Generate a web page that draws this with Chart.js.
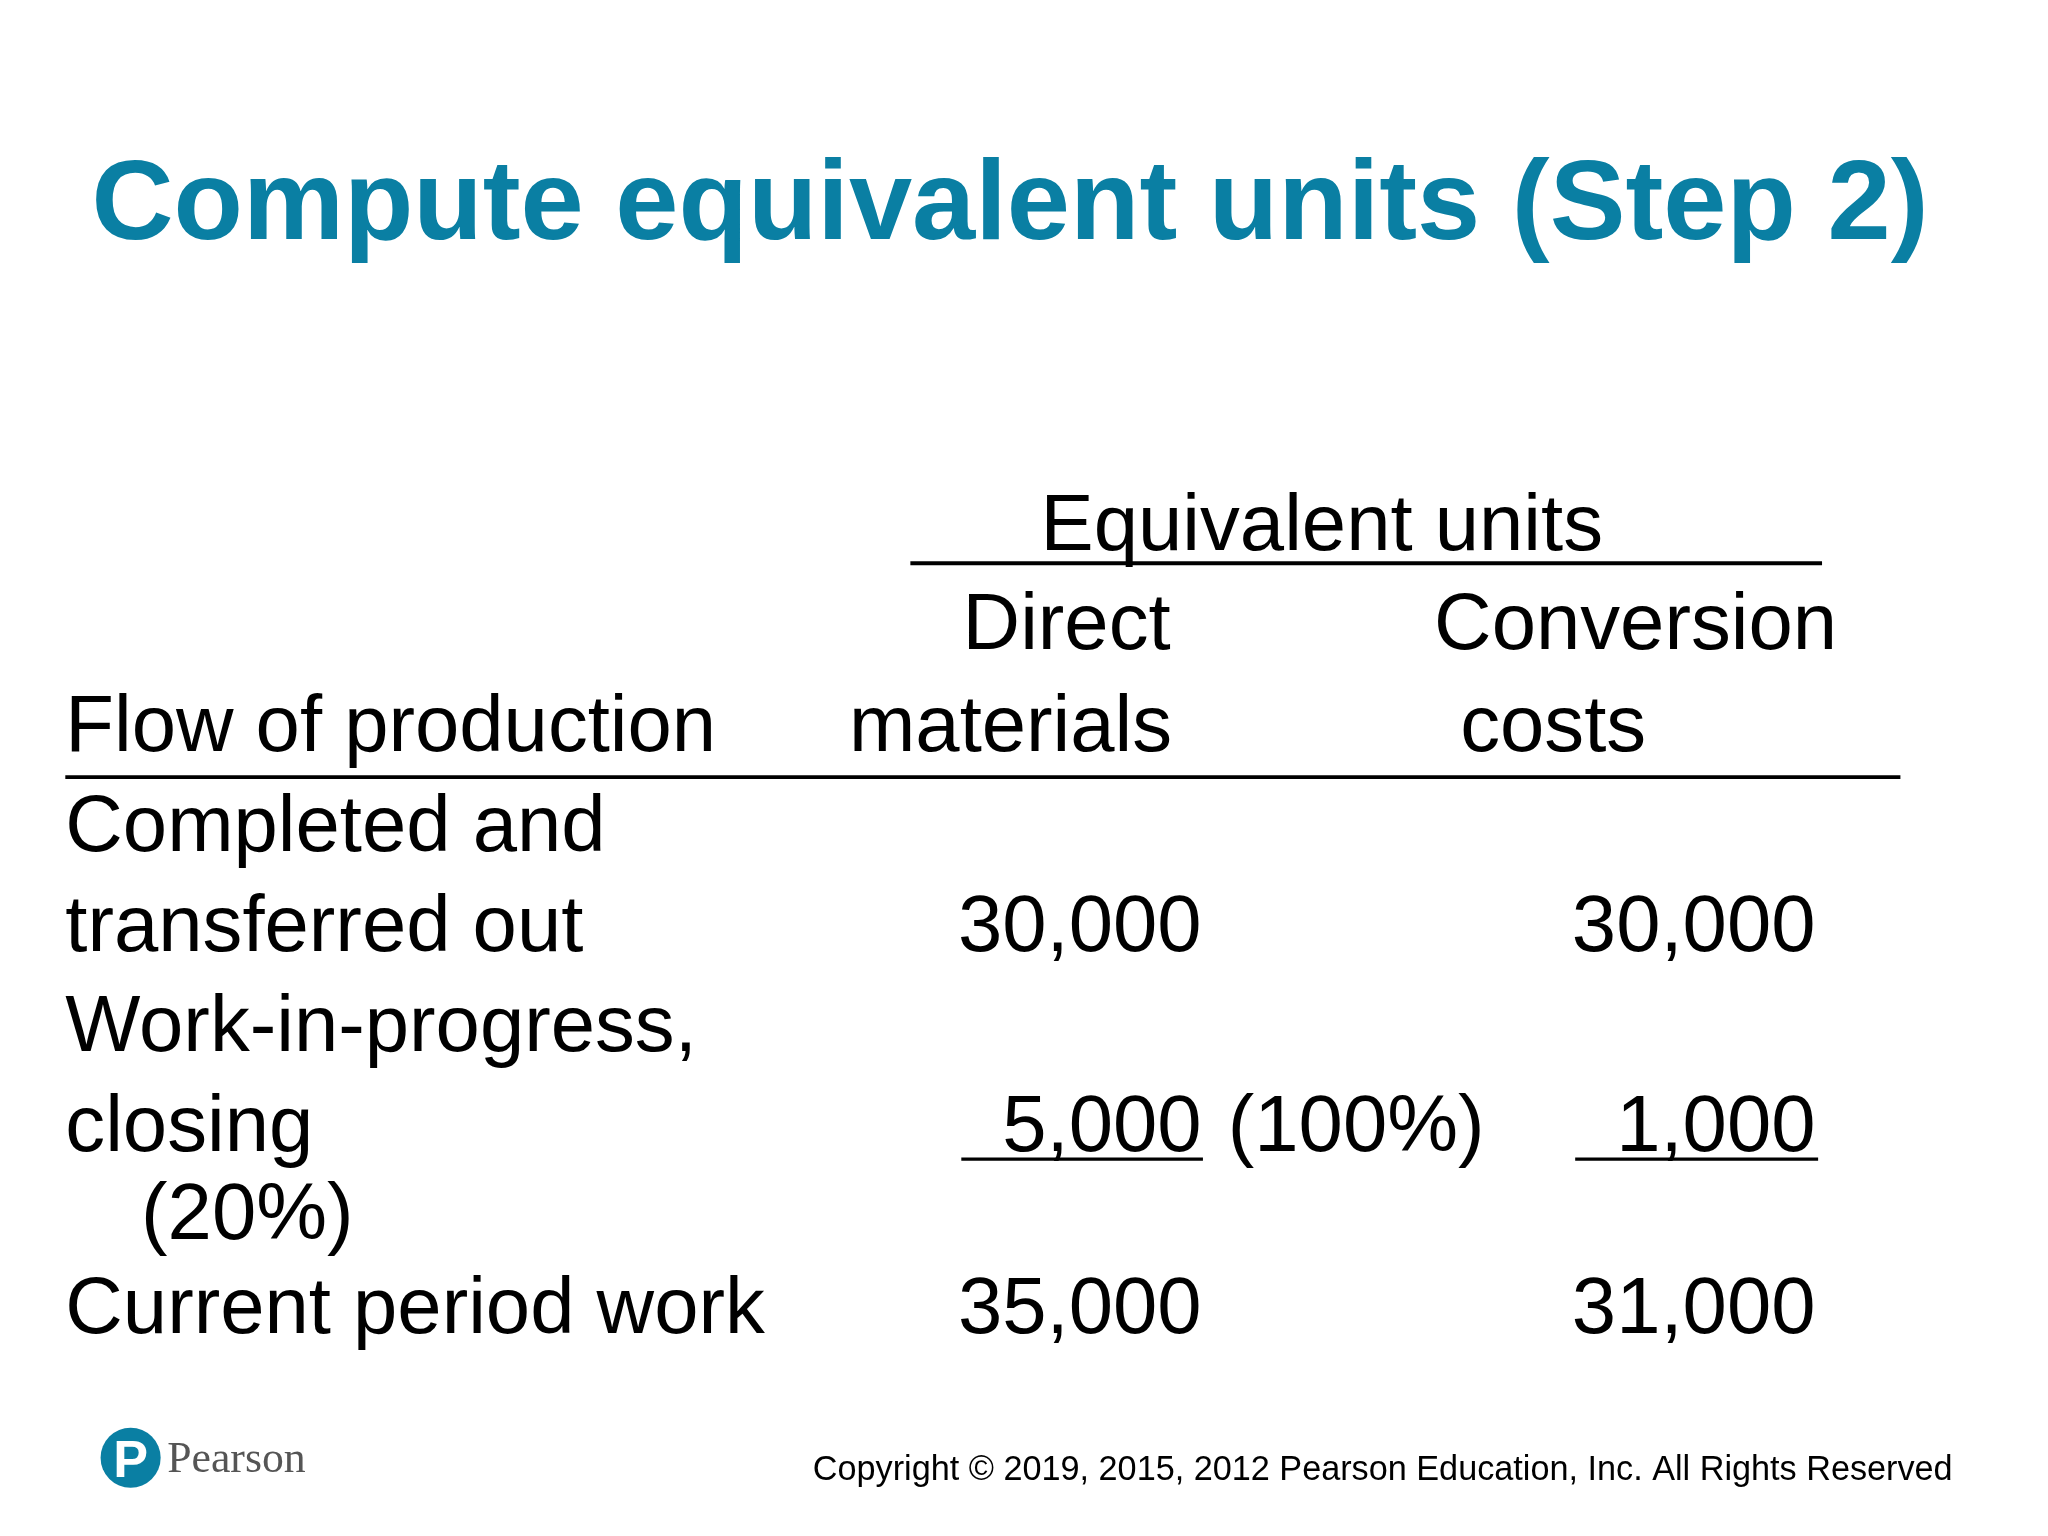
<!DOCTYPE html>
<html><head><meta charset="utf-8">
<script src="https://cdn.jsdelivr.net/npm/chart.js@4"></script>
<style>html,body{margin:0;padding:0;background:#fff}#w{width:2048px;height:1536px}</style>
</head><body><div id="w"><canvas id="c"></canvas></div>
<script>
const title = "Compute equivalent units (Step 2)";
const groupHeader = "Equivalent units";
const colHeaders = [["Direct","materials"],["Conversion","costs"]];
const rowHeader = "Flow of production";
const rowLabels = [["Completed and","transferred out"],["Work-in-progress,","closing","(20%)"],["Current period work"]];
const directMaterials = [30000, 5000, 35000];
const conversionCosts = [30000, 1000, 31000];
const pctNote = "(100%)";
const copyright = "Copyright © 2019, 2015, 2012 Pearson Education, Inc. All Rights Reserved";

const W = 1568, H = 1178;
const fmt = v => v.toLocaleString('en-US');
const F = "'Liberation Sans', Arial, sans-serif";

const tablePlugin = {
  id:'table',
  afterDraw(chart){
    const ctx = chart.ctx, X = v=>chart.scales.x.getPixelForValue(v), Y = v=>chart.scales.y.getPixelForValue(v);
    const K = chart.width / W;
    const txt=(s,x,y,size,align='left',color='#000',weight='',fam=F)=>{
      ctx.font=`${weight} ${size*K}px ${fam}`;ctx.fillStyle=color;ctx.textAlign=align;ctx.textBaseline='alphabetic';
      ctx.fillText(s,X(x),Y(y));};
    const line=(x1,x2,y,w=3)=>{ctx.strokeStyle='#000';ctx.lineWidth=w*K;ctx.beginPath();ctx.moveTo(X(x1),Y(y));ctx.lineTo(X(x2),Y(y));ctx.stroke();};
    ctx.save();
    txt(title,70,183,87,'left','#0a7fa3','bold');
    const fs=61;
    txt(groupHeader,1012,422,fs,'center');
    line(697,1395,432);
    txt(colHeaders[0][0],737,498,fs);txt(colHeaders[1][0],1098,498,fs);
    txt(rowHeader,50,576,fs);txt(colHeaders[0][1],650,576,fs);txt(colHeaders[1][1],1118,576,fs);
    line(50,1455,596);
    txt(rowLabels[0][0],50,653,fs);txt(rowLabels[0][1],50,729,fs);
    txt(fmt(directMaterials[0]),920,729,fs,'right');txt(fmt(conversionCosts[0]),1390,729,fs,'right');
    txt(rowLabels[1][0],50,806,fs);txt(rowLabels[1][1],50,883,fs);txt(rowLabels[1][2],108,950,fs);
    txt(fmt(directMaterials[1]),920,883,fs,'right');txt(pctNote,940,883,fs);
    txt(fmt(conversionCosts[1]),1390,883,fs,'right');
    line(736,921,889,2.5);line(1206,1392,889,2.5);
    txt(rowLabels[2][0],50,1022,fs);
    txt(fmt(directMaterials[2]),920,1022,fs,'right');txt(fmt(conversionCosts[2]),1390,1022,fs,'right');
    ctx.fillStyle='#0a7fa3';ctx.beginPath();ctx.arc(X(100),Y(1118),23*K,0,Math.PI*2);ctx.fill();
    txt("P",100,1133,40,'center','#fff','bold');
    txt("Pearson",128,1129,33.5,'left','#555','',"'Liberation Serif', serif");
    txt(copyright,1495,1135,26.2,'right','#000');
    ctx.restore();
  }
};

new Chart(document.getElementById('c'),{
  type:'scatter',
  data:{datasets:[{data:[],pointRadius:0}]},
  options:{responsive:true,maintainAspectRatio:false,animation:false,
    layout:{padding:0},
    plugins:{legend:{display:false},tooltip:{enabled:false}},
    scales:{x:{type:'linear',min:0,max:W,display:false},
            y:{type:'linear',min:0,max:H,reverse:true,display:false}}},
  plugins:[tablePlugin]
});
</script></body></html>
